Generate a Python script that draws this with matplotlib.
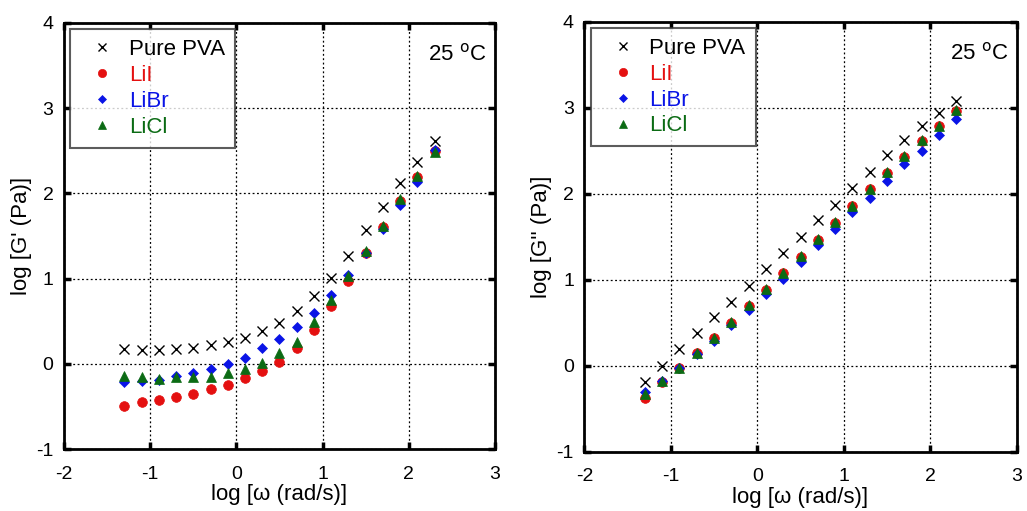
import matplotlib.pyplot as plt

plt.rcParams["font.family"] = ["Liberation Sans", "DejaVu Sans"]
plt.rcParams["axes.unicode_minus"] = False

# log angular frequency, rad/s
LOG_W = [-1.3, -1.1, -0.9, -0.7, -0.5, -0.3, -0.1, 0.1, 0.3, 0.5,
         0.7, 0.9, 1.1, 1.3, 1.5, 1.7, 1.9, 2.1, 2.3]

# storage modulus log G'
G1_PVA = [0.17, 0.16, 0.16, 0.17, 0.19, 0.22, 0.25, 0.30, 0.38, 0.48,
          0.62, 0.79, 1.01, 1.27, 1.57, 1.84, 2.12, 2.37, 2.61]
G1_LII = [-0.49, -0.45, -0.42, -0.39, -0.35, -0.30, -0.25, -0.17, -0.08, 0.02,
          0.18, 0.40, 0.68, 0.97, 1.30, 1.61, 1.91, 2.19, 2.50]
G1_LIBR = [-0.21, -0.20, -0.19, -0.14, -0.11, -0.06, 0.00, 0.07, 0.18, 0.29,
           0.43, 0.60, 0.81, 1.04, 1.30, 1.58, 1.86, 2.13, 2.51]
G1_LICL = [-0.14, -0.16, -0.18, -0.16, -0.16, -0.15, -0.11, -0.06, 0.01, 0.13,
           0.26, 0.49, 0.75, 1.03, 1.32, 1.62, 1.93, 2.20, 2.49]

# loss modulus log G''
G2_PVA = [-0.19, 0.00, 0.19, 0.38, 0.56, 0.74, 0.93, 1.12, 1.31, 1.49,
          1.69, 1.87, 2.06, 2.25, 2.45, 2.62, 2.78, 2.94, 3.08]
G2_LII = [-0.38, -0.19, -0.03, 0.14, 0.32, 0.50, 0.69, 0.88, 1.07, 1.26,
          1.46, 1.66, 1.85, 2.05, 2.24, 2.43, 2.61, 2.78, 2.96]
G2_LIBR = [-0.31, -0.18, -0.03, 0.13, 0.29, 0.47, 0.65, 0.83, 1.01, 1.20,
           1.40, 1.59, 1.78, 1.95, 2.15, 2.34, 2.50, 2.68, 2.87]
G2_LICL = [-0.33, -0.18, -0.03, 0.15, 0.32, 0.51, 0.70, 0.89, 1.08, 1.27,
           1.47, 1.67, 1.86, 2.05, 2.25, 2.44, 2.62, 2.79, 2.97]

LABELS = ["Pure PVA", "LiI", "LiBr", "LiCl"]
COLORS = ["black", "#e41010", "#0a14e6", "#0b6b14"]
MARKERS = ["x", "o", "D", "^"]
SIZES = [6.5, 7, 5, 6.5]

FONT_SIZE = 16
TICK_SIZE = 14


def draw_panel(ax, series, ylabel):
    for ys, label, color, marker, size in zip(series, LABELS, COLORS, MARKERS, SIZES):
        ax.plot(LOG_W, ys, linestyle="none", marker=marker, color=color,
                markersize=size, markeredgewidth=1.0 if marker == "x" else 0.5,
                label=label)

    ax.set_xlim(-2, 3)
    ax.set_ylim(-1, 4)
    ax.set_xticks([-2, -1, 0, 1, 2, 3])
    ax.set_yticks([-1, 0, 1, 2, 3, 4])
    ax.grid(True, color="black", linestyle=(0, (1.5, 2.0)), linewidth=0.9)
    ax.tick_params(direction="in", length=5, width=2.5, labelsize=TICK_SIZE,
                   top=True, right=True)
    ax.tick_params(axis="x", pad=12)
    ax.tick_params(axis="y", pad=7.5)
    for spine in ax.spines.values():
        spine.set_linewidth(2.0)

    ax.set_xlabel("log [ω (rad/s)]", fontsize=FONT_SIZE, labelpad=1)
    ax.set_ylabel(ylabel, fontsize=FONT_SIZE, labelpad=3)

    leg = ax.legend(loc="upper left", fontsize=FONT_SIZE, frameon=True, fancybox=False,
                    borderaxespad=0.28, handletextpad=0.2, labelspacing=0.22,
                    borderpad=0.45, handlelength=2.0, markerscale=0.85)
    leg.get_frame().set_edgecolor("#333333")
    leg.get_frame().set_linewidth(1.5)
    for text, color in zip(leg.get_texts(), COLORS):
        text.set_color(color)

    ax.text(0.98, 0.925, "25 $^{\\rm o}$C", transform=ax.transAxes,
            ha="right", va="center", fontsize=FONT_SIZE)


fig = plt.figure(figsize=(10.27, 5.11), dpi=100)
ax1 = fig.add_axes([0.0623, 0.1213, 0.4197, 0.834])
ax2 = fig.add_axes([0.569, 0.1164, 0.421, 0.8415])

draw_panel(ax1, [G1_PVA, G1_LII, G1_LIBR, G1_LICL], "log [G' (Pa)]")
draw_panel(ax2, [G2_PVA, G2_LII, G2_LIBR, G2_LICL], "log [G'' (Pa)]")

fig.savefig("out.png", dpi=100)
